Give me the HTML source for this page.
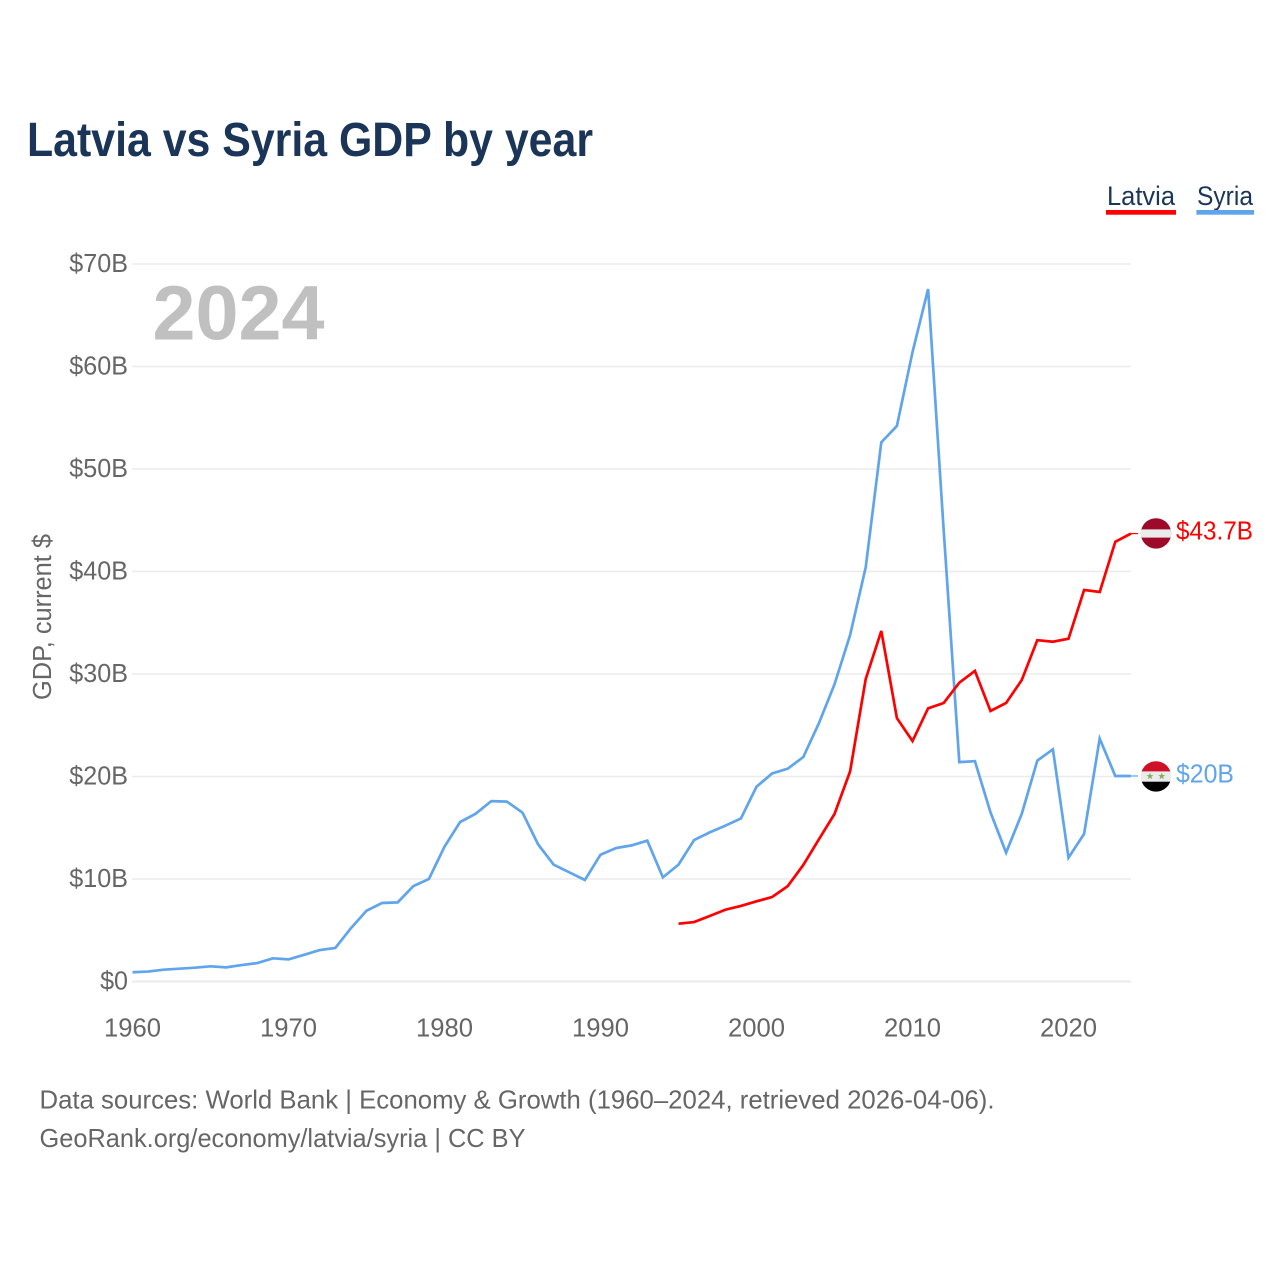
<!DOCTYPE html>
<html lang="en">
<head>
<meta charset="utf-8">
<title>Latvia vs Syria GDP by year</title>
<style>
html,body{margin:0;padding:0;background:#fff;}
svg{display:block;font-family:"Liberation Sans",sans-serif;}
</style>
</head>
<body>
<svg id="chart" xmlns="http://www.w3.org/2000/svg" width="1280" height="1280" viewBox="0 0 1280 1280">
  <defs>
    <clipPath id="clip-lv"><circle cx="1156" cy="533.4" r="15.2"/></clipPath>
    <clipPath id="clip-sy"><circle cx="1156" cy="776.4" r="15.2"/></clipPath>
  </defs>
  <rect x="0" y="0" width="1280" height="1280" fill="#ffffff"/>
  <text x="27" y="156" font-size="48" font-weight="700" fill="#1a3557" textLength="566" lengthAdjust="spacingAndGlyphs">Latvia vs Syria GDP by year</text>

  <g>
    <g>
      <text x="1107" y="205" font-size="27" fill="#1a3557" textLength="68" lengthAdjust="spacingAndGlyphs">Latvia</text>
      <rect x="1106" y="210" width="70" height="4.7" fill="#ff0000"/>
    </g>
    <g>
      <text x="1197" y="205" font-size="27" fill="#1a3557" textLength="56" lengthAdjust="spacingAndGlyphs">Syria</text>
      <rect x="1196.4" y="210" width="57.6" height="4.7" fill="#60a5ec"/>
    </g>
  </g>

  <g id="grid"></g>
  <g id="y-labels"></g>
  <g id="x-labels"></g>
  <text transform="translate(51,617) rotate(-90)" text-anchor="middle" font-size="25.5" fill="#666666" textLength="166" lengthAdjust="spacingAndGlyphs">GDP, current $</text>
  <text x="152.5" y="339.5" font-size="77" font-weight="700" fill="#c0c0c0" textLength="172" lengthAdjust="spacingAndGlyphs">2024</text>

  <g id="series"></g>

  <g clip-path="url(#clip-lv)">
    <rect x="1140" y="518" width="32" height="32" fill="#9e0a2a"/>
    <rect x="1140" y="529.4" width="32" height="8.2" fill="#ebebeb"/>
  </g>
  <g clip-path="url(#clip-sy)">
    <rect x="1140" y="761" width="32" height="11" fill="#ce1126"/>
    <rect x="1140" y="771.4" width="32" height="10.4" fill="#ebebeb"/>
    <rect x="1140" y="781.7" width="32" height="11" fill="#000000"/>
    <polygon points="1150,772.6 1150.9,775.1 1153.5,775.1 1151.4,776.7 1152.2,779.2 1150,777.7 1147.8,779.2 1148.6,776.7 1146.5,775.1 1149.1,775.1" fill="#7fae5f"/>
    <polygon points="1161.7,772.6 1162.6,775.1 1165.2,775.1 1163.1,776.7 1163.9,779.2 1161.7,777.7 1159.5,779.2 1160.3,776.7 1158.2,775.1 1160.8,775.1" fill="#7fae5f"/>
  </g>
  <text id="end-label-latvia" x="1176" y="539.5" font-size="25.5" fill="#ff0000" textLength="77" lengthAdjust="spacingAndGlyphs">$43.7B</text>
  <text id="end-label-syria" x="1176" y="782.5" font-size="25.5" fill="#60a5ec" textLength="58" lengthAdjust="spacingAndGlyphs">$20B</text>

  <g>
    <text x="39.5" y="1108.5" font-size="26" fill="#666666" textLength="955" lengthAdjust="spacingAndGlyphs">Data sources: World Bank | Economy &amp; Growth (1960–2024, retrieved 2026-04-06).</text>
    <text x="39.5" y="1147" font-size="26" fill="#666666" textLength="486" lengthAdjust="spacingAndGlyphs">GeoRank.org/economy/latvia/syria | CC BY</text>
  </g>
</svg>
<script>
const yTickValues = [0, 10, 20, 30, 40, 50, 60, 70];
const yTickLabels = ["$0", "$10B", "$20B", "$30B", "$40B", "$50B", "$60B", "$70B"];
const xTickYears = [1960, 1970, 1980, 1990, 2000, 2010, 2020];
const xTickLabels = ["1960", "1970", "1980", "1990", "2000", "2010", "2020"];

const syriaStartYear = 1960;
const syriaGdp = [0.9, 0.97, 1.15, 1.25, 1.35, 1.48, 1.38, 1.6, 1.8, 2.26, 2.16, 2.6, 3.07, 3.27, 5.2, 6.9, 7.66, 7.72, 9.3, 10.0, 13.15, 15.56, 16.37, 17.6, 17.55, 16.47, 13.38, 11.4, 10.65, 9.9, 12.37, 13.02, 13.28, 13.74, 10.16, 11.4, 13.8, 14.55, 15.2, 15.9, 19.0, 20.3, 20.76, 21.9, 25.2, 29.0, 33.8, 40.4, 52.6, 54.2, 61.4, 67.55, 44.0, 21.4, 21.5, 16.5, 12.57, 16.34, 21.55, 22.65, 12.08, 14.4, 23.7, 20.05, 20.05];

const latviaStartYear = 1995;
const latviaGdp = [5.64, 5.8, 6.39, 7.0, 7.37, 7.82, 8.24, 9.3, 11.37, 13.87, 16.34, 20.5, 29.5, 34.2, 25.7, 23.46, 26.65, 27.17, 29.15, 30.3, 26.39, 27.17, 29.4, 33.3, 33.15, 33.44, 38.2, 38.0, 42.9, 43.7];

const SVG_NS = "http://www.w3.org/2000/svg";
const xScale = function (year) { return 132.5 + (year - 1960) * 15.6; };
const yScale = function (value) { return 981.5 - value * 10.25; };

function makeEl(tag, parent, attrs) {
  const el = document.createElementNS(SVG_NS, tag);
  Object.keys(attrs).forEach(function (k) { el.setAttribute(k, attrs[k]); });
  parent.appendChild(el);
  return el;
}

function stretch(el, factor) {
  const w = el.getComputedTextLength();
  el.setAttribute("textLength", (w * factor).toFixed(1));
  el.setAttribute("lengthAdjust", "spacingAndGlyphs");
}

const grid = document.getElementById("grid");
const yLabels = document.getElementById("y-labels");
yTickValues.forEach(function (v, i) {
  const line = makeEl("line", grid, {
    x1: 132, x2: 1131, y1: yScale(v), y2: yScale(v),
    stroke: "#ebebeb", "stroke-width": v === 0 ? 2 : 1.5
  });
  
  
  const t = makeEl("text", yLabels, {
    x: 128, y: yScale(v) + 8, "text-anchor": "end", "font-size": 25.5, fill: "#666666"
  });
  
  
  t.textContent = yTickLabels[i];
  stretch(t, 0.985);
});

const xLabels = document.getElementById("x-labels");
xTickYears.forEach(function (yr, i) {
  const t = makeEl("text", xLabels, {
    x: xScale(yr), y: 1036.5, "text-anchor": "middle", "font-size": 25.5, fill: "#666666"
  });
  
  
  t.textContent = xTickLabels[i];
  stretch(t, 1.005);
});

function linePath(startYear, values) {
  return values.map(function (v, i) {
    return (i === 0 ? "M" : "L") + xScale(startYear + i).toFixed(2) + " " + yScale(v).toFixed(2);
  }).join(" ");
}

const seriesGroup = document.getElementById("series");
const lastYear = 2024;
const leaderEndX = 1138;

const syriaLine = makeEl("path", seriesGroup, {
  d: linePath(syriaStartYear, syriaGdp), fill: "none", stroke: "#60a5ec",
  "stroke-width": 2.7, "stroke-linejoin": "miter"
});



const latviaLine = makeEl("path", seriesGroup, {
  d: linePath(latviaStartYear, latviaGdp), fill: "none", stroke: "#ff0000",
  "stroke-width": 2.7, "stroke-linejoin": "miter"
});



const syriaLeader = makeEl("line", seriesGroup, {
  x1: xScale(lastYear), x2: leaderEndX,
  y1: yScale(syriaGdp[syriaGdp.length - 1]), y2: yScale(syriaGdp[syriaGdp.length - 1]),
  stroke: "#60a5ec", "stroke-width": 1.2
});



const latviaLeader = makeEl("line", seriesGroup, {
  x1: xScale(lastYear), x2: leaderEndX,
  y1: yScale(latviaGdp[latviaGdp.length - 1]), y2: yScale(latviaGdp[latviaGdp.length - 1]),
  stroke: "#ff0000", "stroke-width": 1.2
});


</script>
</body>
</html>
